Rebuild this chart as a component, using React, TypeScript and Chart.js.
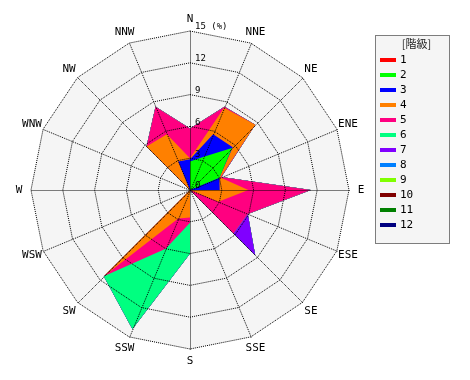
import React, { useEffect, useRef } from "react";
import { Chart, registerables } from "chart.js";

Chart.register(...registerables);

// 16 wind directions, clockwise from north
const directions = ["N", "NNE", "NE", "ENE", "E", "ESE", "SE", "SSE", "S", "SSW", "SW", "WSW", "W", "WNW", "NW", "NNW"];

// frequency (%) of each class per direction (order as `directions`)
const class1 = [0, 0, 0, 0, 0, 0, 0, 0, 0, 0, 0, 0, 0, 0, 0, 0];
const class2 = [2.7, 3.4, 5.6, 3.0, 0, 0, 0, 0, 0, 0, 0, 0, 0, 0, 0, 0];
const class3 = [0.2, 2.3, 0.1, 0, 2.8, 0, 0, 0, 0, 0, 0, 0, 0, 0, 0, 2.9];
const class4 = [0.1, 2.7, 3.0, 0.1, 2.7, 2.9, 0, 0, 2.6, 2.9, 11.5, 0, 0, 0, 5.8, 2.8];
const class5 = [2.8, 0.1, 0, 0.1, 5.9, 3.0, 5.8, 0, 0.5, 3.1, 0, 0, 0, 0, 0, 2.8];
const class6 = [0, 0, 0, 0, 0, 0, 0, 0, 2.9, 8.2, 0, 0, 0, 0, 0, 0];
const class7 = [0, 0, 0, 0, 0, 0, 2.9, 0, 0, 0, 0, 0, 0, 0, 0, 0];
const class8 = [0, 0, 0, 0, 0, 0, 0, 0, 0, 0, 0, 0, 0, 0, 0, 0];
const class9 = [0, 0, 0, 0, 0, 0, 0, 0, 0, 0, 0, 0, 0, 0, 0, 0];
const class10 = [0, 0, 0, 0, 0, 0, 0, 0, 0, 0, 0, 0, 0, 0, 0, 0];
const class11 = [0, 0, 0, 0, 0, 0, 0, 0, 0, 0, 0, 0, 0, 0, 0, 0];
const class12 = [0, 0, 0, 0, 0, 0, 0, 0, 0, 0, 0, 0, 0, 0, 0, 0];

const classLabels = ["1", "2", "3", "4", "5", "6", "7", "8", "9", "10", "11", "12"];
const classColors = ["#ff0000", "#00ff00", "#0000ff", "#ff8000", "#ff0080", "#00ff80", "#8000ff", "#0080ff", "#80ff00", "#800000", "#008000", "#000080"];

const legendTitle = "[階級]";
const tickValues = [0, 3, 6, 9, 12, 15];
const tickLabels = ["0", "3", "6", "9", "12", "15 (%)"];
const axisMax = 15;

const classSeries = [class1, class2, class3, class4, class5, class6, class7, class8, class9, class10, class11, class12];

const MONO = '"DejaVu Sans Mono", "Liberation Mono", monospace';

function polygonPath(ctx: CanvasRenderingContext2D, scale: any, value: number) {
  const d = scale.getDistanceFromCenterForValue(value);
  ctx.beginPath();
  for (let i = 0; i < directions.length; i++) {
    const p = scale.getPointPosition(i, d);
    if (i === 0) ctx.moveTo(p.x, p.y);
    else ctx.lineTo(p.x, p.y);
  }
  ctx.closePath();
}

const windRosePlugin = {
  id: "windRose",
  beforeDatasetsDraw(chart: any) {
    const ctx = chart.ctx as CanvasRenderingContext2D;
    const s = chart.scales.r;
    ctx.save();
    polygonPath(ctx, s, axisMax);
    ctx.fillStyle = "#f5f5f5";
    ctx.fill();
    ctx.restore();
  },
  afterDatasetsDraw(chart: any) {
    const ctx = chart.ctx as CanvasRenderingContext2D;
    const s = chart.scales.r;
    ctx.save();
    ctx.strokeStyle = "#000";
    ctx.lineWidth = 1;
    ctx.setLineDash([1, 1]);
    // rings
    for (const v of tickValues) {
      if (v === 0) continue;
      polygonPath(ctx, s, v);
      ctx.stroke();
    }
    // spokes
    const outer = s.getDistanceFromCenterForValue(axisMax);
    for (let i = 0; i < directions.length; i++) {
      const p = s.getPointPosition(i, outer);
      ctx.beginPath();
      ctx.moveTo(s.xCenter + 0.5, s.yCenter + 0.5);
      ctx.lineTo(p.x + 0.5, p.y + 0.5);
      ctx.stroke();
    }
    ctx.setLineDash([]);
    // tick labels
    ctx.fillStyle = "#000";
    ctx.font = `9px ${MONO}`;
    ctx.textAlign = "left";
    ctx.textBaseline = "middle";
    tickValues.forEach((v, k) => {
      const p = s.getPointPosition(0, s.getDistanceFromCenterForValue(v));
      ctx.fillText(tickLabels[k], p.x + 5, p.y - 4);
    });
    // direction labels
    ctx.font = `11px ${MONO}`;
    ctx.textAlign = "center";
    ctx.textBaseline = "middle";
    directions.forEach((lab, i) => {
      const p = s.getPointPosition(i, outer + 12);
      ctx.fillText(lab, p.x, p.y);
    });
    ctx.restore();
  },
  afterDraw(chart: any) {
    const ctx = chart.ctx as CanvasRenderingContext2D;
    ctx.save();
    const bx = 375.5, by = 35.5, bw = 74, bh = 208;
    ctx.fillStyle = "#f5f5f5";
    ctx.fillRect(bx, by, bw, bh);
    ctx.strokeStyle = "#000";
    ctx.lineWidth = 1;
    ctx.setLineDash([1, 1]);
    ctx.strokeRect(bx, by, bw, bh);
    ctx.setLineDash([]);
    ctx.fillStyle = "#222";
    ctx.font = `11px "Noto Sans CJK JP", ${MONO}`;
    ctx.textAlign = "center";
    ctx.textBaseline = "middle";
    ctx.fillText(legendTitle, bx + bw / 2 + 4, by + 8);
    ctx.font = `11px ${MONO}`;
    ctx.textAlign = "left";
    chart.data.datasets.forEach((ds: any, i: number) => {
      const y = 60 + 15 * i;
      ctx.fillStyle = ds.backgroundColor;
      ctx.fillRect(380, y - 2, 16, 4);
      ctx.fillStyle = "#000";
      ctx.fillText(ds.label, 400, y);
    });
    ctx.restore();
  },
};

export default function App() {
  const ref = useRef<HTMLCanvasElement | null>(null);
  useEffect(() => {
    if (!ref.current) return;
    const running = new Array(directions.length).fill(0);
    const datasets = classSeries.map((series, k) => {
      const cum = series.map((v, i) => (running[i] += v));
      return {
        label: classLabels[k],
        data: cum.slice(),
        backgroundColor: classColors[k],
        borderColor: "rgba(0,0,0,0)",
        borderWidth: 0,
        pointRadius: 0,
        pointHoverRadius: 0,
        fill: "origin",
        tension: 0,
      };
    });
    const chart = new Chart(ref.current, {
      type: "radar",
      data: { labels: directions, datasets },
      options: {
        responsive: false,
        animation: false,
        events: [],
        layout: { padding: { left: 31, top: 31, right: 121, bottom: 31 } },
        plugins: { legend: { display: false }, tooltip: { enabled: false } },
        scales: {
          r: {
            min: 0,
            max: axisMax,
            ticks: { display: false, stepSize: 3 },
            grid: { display: false },
            angleLines: { display: false },
            pointLabels: { display: false },
          },
        },
      },
      plugins: [windRosePlugin],
    });
    return () => chart.destroy();
  }, []);
  return (
    <div style={{ position: "fixed", left: 0, top: 0, width: 470, height: 380, background: "#fff" }}>
      <canvas ref={ref} width={470} height={380} style={{ width: 470, height: 380 }} />
    </div>
  );
}
